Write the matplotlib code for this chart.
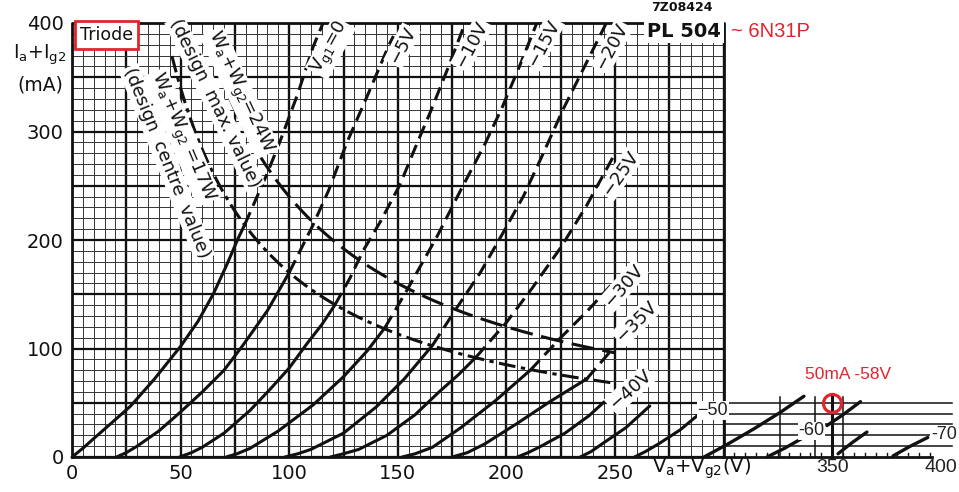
import numpy as np
import matplotlib
matplotlib.use("Agg")
import matplotlib.pyplot as plt

# ---------------- data ----------------
x_ticks = [0, 50, 100, 150, 200, 250]
y_ticks = [0, 100, 200, 300, 400]
ext_ticks = [350, 400]

vg1 = [0, -5, -10, -15, -20, -25, -30, -35, -40, -45, -50]

solid_va = [
    [0, 5, 10, 18, 27, 38, 50, 58, 65, 71, 76.6, 79.5],
    [20.5, 25, 30, 40, 49.7, 60, 70, 78.7, 90, 100],
    [49.5, 55, 60, 70, 82, 91, 100, 108, 115, 121],
    [71, 76, 82, 95, 111, 125, 136, 144],
    [98, 104, 110, 125, 140, 153, 166],
    [119, 125, 132, 145, 158, 169, 178, 186],
    [152, 158, 166, 179, 195, 211],
    [175, 182, 190, 205, 220, 237],
    [205, 210, 216, 227, 238, 249],
    [234, 239, 244, 255, 266],
    [259, 264, 270, 280, 289],
]
solid_ia = [
    [0, 8, 17, 31, 47, 72, 102, 125, 150, 176, 202, 214],
    [0, 4, 10, 24, 41, 60, 80, 103, 135, 170],
    [0, 4, 9, 22, 43, 62, 82, 104, 122, 140],
    [0, 3, 8, 24, 48, 74, 98, 119],
    [0, 3, 7, 22, 46, 72, 103],
    [0, 3, 7, 20, 39, 60, 76, 92],
    [0, 3, 9, 27, 52, 80],
    [0, 4, 12, 31, 51, 72],
    [0, 4, 10, 22, 38, 58],
    [0, 5, 12, 27, 47],
    [0, 5, 12, 25, 40],
]
dashed_va = [
    [79.5, 89.6, 95.8, 104, 111, 115.6],
    [100, 111, 118, 126.6, 136, 146, 148],
    [121, 128, 134, 142, 151, 158, 165, 173, 181],
    [144, 154, 168, 180, 190, 198, 206, 214],
    [166, 177, 188, 198, 208, 217, 226, 236, 246],
    [186, 200, 212, 225, 237, 249],
    [211, 225, 237, 248],
    [237, 249],
]
dashed_ia = [
    [214, 260, 291, 335, 378, 400],
    [170, 214, 245, 290, 333, 380, 388],
    [140, 165, 190, 217, 251, 285, 318, 358, 400],
    [119, 153, 203, 250, 288, 322, 360, 400],
    [103, 137, 170, 205, 241, 280, 320, 360, 400],
    [92, 124, 156, 193, 232, 276],
    [80, 110, 134, 158],
    [72, 100],
]

curve_labels = ["V$_{\\rm g1}$=0", "−5V", "−10V", "−15V", "−20V",
                "−25V", "−30V", "−35V", "−40V"]
label_va = [119, 152, 184, 217, 248.6, 252.5, 254, 260, 257]
label_ia = [377, 379, 380, 381.5, 378, 261, 158, 125, 62]
label_rot = [61, 63, 62, 62, 62, 55, 49, 45, 42]

# constant-power limits  (Wa + Wg2)
power_w = [24, 17]
power_va_start = [67, 46]
power_va_end = [250, 250]

# added 6N31P extension (editor's sketch)
ext_lines_va = [[291, 302, 314, 326, 337], [320, 328, 336],
                [347.6, 355, 363], [352.7, 359, 366], [378, 386, 394]]
ext_lines_ia = [[0, 12, 26, 41, 56], [0, 8, 17],
                [29, 39, 51], [3, 13, 23], [1, 10, 18]]
ext_grid_ia = [10, 20, 30, 40, 50]
ext_grid_va = [326, 342, 355]
ext_labels = ["−50", "-60", "-70"]
ext_label_va = [295, 340.5, 401.5]
ext_label_ia = [43, 24, 21]
op_point_va = 350
op_point_ia = 50
op_text = "50mA -58V"

# ---------------- figure ----------------
BLACK = "#111111"
RED = "#e0252f"
fig = plt.figure(figsize=(9.59, 4.92), dpi=100)
fig.patch.set_facecolor("white")
ax = fig.add_axes([72 / 959, 35 / 492, 651.6 / 959, 434 / 492])
ax.set_xlim(0, 300)
ax.set_ylim(0, 400)
for s in ax.spines.values():
    s.set_visible(False)
ax.set_xticks(x_ticks)
ax.set_xticklabels([str(t) for t in x_ticks])
ax.set_yticks(y_ticks)
ax.set_yticklabels([str(t) for t in y_ticks])
ax.tick_params(length=0, labelsize=14, colors=BLACK)
ax.tick_params(axis="x", pad=5)
ax.tick_params(axis="y", pad=6)

# grid paper
for v in np.arange(0, 301, 5):
    major = (v % 25 == 0)
    ax.plot([v, v], [0, 400], color=BLACK if major else "#333333",
            lw=1.7 if major else 0.7, zorder=1, solid_capstyle="butt")
for i in np.arange(0, 401, 10):
    major = (i % 50 == 0)
    ax.plot([0, 300], [i, i], color=BLACK if major else "#333333",
            lw=1.6 if major else 0.7, zorder=1, solid_capstyle="butt")
ax.plot([0, 300, 300, 0, 0], [0, 0, 400, 400, 0], color=BLACK, lw=2.0,
        zorder=2, clip_on=False)

# characteristic curves
for va, ia in zip(solid_va, solid_ia):
    ax.plot(va, ia, color=BLACK, lw=2.2, zorder=3, solid_capstyle="round",
            solid_joinstyle="round", clip_on=False)
for va, ia in zip(dashed_va, dashed_ia):
    ax.plot(va, ia, color=BLACK, lw=2.2, zorder=3, dashes=(4.5, 2.3),
            dash_capstyle="butt", clip_on=False)

# constant-power hyperbolas
styles = [(7.5, 2.8), (5.5, 1.8, 1.4, 1.8)]
for p, v0, v1, ds in zip(power_w, power_va_start, power_va_end, styles):
    vv = np.linspace(v0, v1, 200)
    ax.plot(vv, p * 1000.0 / vv, color=BLACK, lw=2.2, dashes=ds, zorder=3)

# curve labels
box = dict(facecolor="white", edgecolor="none", pad=1.0)
for t, x, y, r in zip(curve_labels, label_va, label_ia, label_rot):
    ax.text(x, y, t, rotation=r, rotation_mode="anchor", ha="center",
            va="center", fontsize=13, color=BLACK, bbox=box, zorder=5,
            clip_on=False)

# power labels
ax.text(77.3, 336, "W$_{\\rm a}$+W$_{\\rm g2}$=24W", rotation=-65,
        rotation_mode="anchor", ha="center", va="center", fontsize=13,
        color=BLACK, bbox=box, zorder=5)
ax.text(65.8, 326, "(design  max. value)", rotation=-64,
        rotation_mode="anchor", ha="center", va="center", fontsize=13,
        color=BLACK, bbox=box, zorder=5)
ax.text(50.6, 295, "W$_{\\rm a}$+W$_{\\rm g2}$ =17W", rotation=-67,
        rotation_mode="anchor", ha="center", va="center", fontsize=13,
        color=BLACK, bbox=box, zorder=5)
ax.text(43.7, 271, "(design  centre  value)", rotation=-68,
        rotation_mode="anchor", ha="center", va="center", fontsize=13,
        color=BLACK, bbox=box, zorder=5)

# titles / annotations
ax.text(15.7, 389, "Triode", ha="center", va="center", fontsize=12.5,
        color=BLACK, bbox=dict(facecolor="white", edgecolor=RED, lw=2.0,
                               pad=3.5), zorder=6)
ax.text(281.8, 392.6, "PL 504", ha="center", va="center", fontsize=14,
        fontweight="bold", color=BLACK,
        bbox=dict(facecolor="white", edgecolor="none", pad=2), zorder=6)
ax.text(280.8, 414, "7Z08424", ha="center", va="center", fontsize=9,
        fontweight="bold", color=BLACK, clip_on=False)
ax.text(303.5, 392, "~ 6N31P", ha="left", va="center", fontsize=14.5,
        color=RED, family="Liberation Sans", clip_on=False)

ax.text(-14.7, 371, "I$_{\\rm a}$+I$_{\\rm g2}$", ha="center", va="center",
        fontsize=13.5, color=BLACK, clip_on=False)
ax.text(-14.7, 343, "(mA)", ha="center", va="center", fontsize=13.5,
        color=BLACK, clip_on=False)

ax.text(290, -10.5, "V$_{\\rm a}$+V$_{\\rm g2}$(V)", ha="center",
        va="center", fontsize=14, color=BLACK, zorder=6, clip_on=False)

# --------- extension sketched to 400 V ---------
for i in ext_grid_ia:
    ax.plot([300, 405], [i, i], color=BLACK, lw=1.1, zorder=2, clip_on=False)
ax.plot([300, 396], [0, 0], color=BLACK, lw=2.0, zorder=2, clip_on=False)
for v in np.arange(305, 396, 5):
    ax.plot([v, v], [0, 4], color=BLACK, lw=1.0, zorder=2, clip_on=False)
for v in ext_grid_va:
    ax.plot([v, v], [0, 55], color=BLACK, lw=1.1, zorder=2, clip_on=False)
ax.plot([350, 350], [0, 58], color=BLACK, lw=2.2, zorder=2, clip_on=False)
for va, ia in zip(ext_lines_va, ext_lines_ia):
    ax.plot(va, ia, color=BLACK, lw=2.4, zorder=3, solid_capstyle="round",
            clip_on=False)
for t, x, y in zip(ext_labels, ext_label_va, ext_label_ia):
    ax.text(x, y, t, ha="center", va="center", fontsize=13,
            family="Liberation Sans", color="#222222",
            bbox=dict(facecolor="white", edgecolor="none", pad=0.5),
            zorder=6, clip_on=False)
for t in ext_ticks:
    ax.text(t, -9.5, str(t), ha="center", va="center", fontsize=14,
            family="Liberation Sans", color="#222222", clip_on=False)
ax.plot([op_point_va], [op_point_ia], marker="o", ms=13, mfc="none",
        mec=RED, mew=2.3, zorder=7, clip_on=False)
ax.text(op_point_va + 7.5, op_point_ia + 26, op_text, ha="center",
        va="center", fontsize=12.5, color=RED, family="Liberation Sans",
        clip_on=False)

fig.savefig("out.png", dpi=100, facecolor="white")
